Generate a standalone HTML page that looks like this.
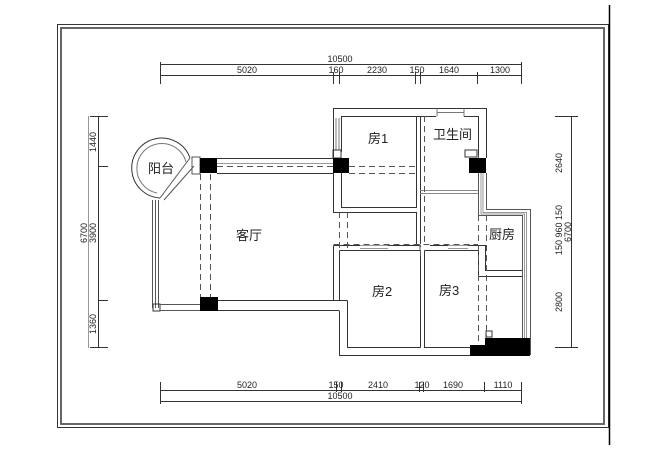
<!DOCTYPE html>
<html><head><meta charset="utf-8"><style>
html,body{margin:0;padding:0;background:#fff;width:654px;height:457px;overflow:hidden}
svg{display:block}
text{font-family:"Liberation Sans","Noto Sans CJK SC",sans-serif;fill:#222}
.cn{font-family:"Liberation Serif","Noto Serif CJK SC",serif;font-size:13px}
.d{font-size:9px}
</style></head><body>
<svg width="654" height="457" viewBox="0 0 654 457" xmlns="http://www.w3.org/2000/svg">
<g fill="none" stroke="#333" stroke-width="1">
<rect x="57.5" y="24.5" width="551" height="403"/>
<rect x="61" y="28" width="543" height="396" stroke="#666" stroke-width="2"/>
<line x1="609.5" y1="5" x2="609.5" y2="445" stroke="#000" stroke-width="1.5"/>
<line x1="160" y1="64.5" x2="522" y2="64.5"/>
<line x1="160" y1="75.5" x2="522" y2="75.5"/>
<path d="M160.5 62V84 M333.5 72V84 M339.5 72V84 M415.5 72V84 M420.5 72V84 M477.5 72V84 M521.5 62V84"/>
<line x1="160" y1="390.5" x2="522" y2="390.5"/>
<line x1="160" y1="401.5" x2="522" y2="401.5"/>
<path d="M160.5 382V404 M336.5 382V392 M341.5 382V392 M419.5 382V392 M423.5 382V392 M484.5 382V392 M521.5 382V404"/>
<line x1="98.5" y1="116" x2="98.5" y2="348"/>
<line x1="88.5" y1="116" x2="88.5" y2="348" stroke="#999"/>
<path d="M90 116.5H108 M98 166.5H108 M98 300.5H108 M90 347.5H108"/>
<line x1="571.5" y1="116" x2="571.5" y2="348"/>
<path d="M555 116.5H578 M555 347.5H578"/>
<path d="M190 158 A30 30 0 1 0 160 198" />
<path d="M186 162 A25 25 0 1 0 157 193" stroke="#777"/>
<path d="M190 158 L160 198 M194 166 L164 200" stroke="#555"/>
<path d="M152.5 200V308 M155.5 200V308 M158.5 200V308" stroke="#555"/>
<rect x="153" y="304" width="7" height="7"/>
<path d="M160 304.5H200 M160 310.5H200" stroke="#555"/>
<rect x="192" y="157" width="8" height="17" stroke="#555"/>
<path d="M217 158.5H333 M217 173.5H333" />
<path d="M217 163.5H333" stroke="#999"/>
<path d="M333.5 158V108.5H486.5V158 M341.5 152V116.5H436 M464 116.5H478.5V155"/>
<path d="M437 108.5V116.5 M464 108.5V116.5 M437 112.5H464" stroke="#777"/>
<path d="M336 118V150 M339 118V150" stroke="#777"/>
<rect x="333" y="150" width="8" height="8"/>
<rect x="465" y="150" width="12" height="7"/>
<path d="M341.5 173V207.5H416.5V116.5 M420.5 116.5V244 M333.5 173V212.5H369 M369 212.5H416.5V244"/>
<path d="M420 190.5H478 M420 193.5H478" stroke="#888"/>
<path d="M486.5 173V209.5H530.5V355 M478.5 173V215.5H522.5V338" stroke="#555"/>
<path d="M483 173V212.5H526.5V338 M481 173V214H524.5V338" stroke="#999"/>
<path d="M333.5 245.5V300 M333.5 245.5H360 M388 245.5H420 M420.5 245.5V247 M430 245.5H448 M468 245.5H485.5V270.5H522 M478.5 250V276.5H522"/>
<path d="M339.5 250.5H420.5V347.5 M424.5 250.5V347.5H475 M424.5 250.5H478.5V276"/>
<path d="M339.5 250.5V300" />
<path d="M347.5 300.5V347.5H420.5 M339.5 311V355.5H470"/>
<path d="M360 245.5H388 M448 245.5H468 M360 248.5H388 M448 248.5H468" stroke="#999"/>
<path d="M218 300.5H347.5 M218 310.5H339.5"/>
<rect x="486" y="331" width="6" height="6"/>
<g stroke="#555" stroke-dasharray="6,4">
<path d="M200.5 174V297 M210.5 174V297 M217 166.5H333 M349 166.5H416 M349 173.5H416 M339.5 212V250 M347.5 212V250 M333.5 244.5H478 M420 244.5V250 M424.5 116V244 M478.5 155V345 M486.5 215V340 M420.5 250V256"/>
</g>
</g>
<g fill="#000">
<rect x="200" y="158" width="17" height="15"/>
<rect x="333" y="158" width="16" height="15"/>
<rect x="469" y="158" width="17" height="15"/>
<rect x="200" y="297" width="18" height="14"/>
<path d="M485 338H530V356H470V345H485Z"/>
</g>
<g class="d">
<text x="340" y="62" text-anchor="middle">10500</text>
<text x="247" y="73" text-anchor="middle">5020</text>
<text x="336" y="73" text-anchor="middle">160</text>
<text x="377" y="73" text-anchor="middle">2230</text>
<text x="417" y="73" text-anchor="middle">150</text>
<text x="449" y="73" text-anchor="middle">1640</text>
<text x="500" y="73" text-anchor="middle">1300</text>
<text x="247" y="388" text-anchor="middle">5020</text>
<text x="336" y="388" text-anchor="middle">150</text>
<text x="378" y="388" text-anchor="middle">2410</text>
<text x="422" y="388" text-anchor="middle">120</text>
<text x="453" y="388" text-anchor="middle">1690</text>
<text x="503" y="388" text-anchor="middle">1110</text>
<text x="340" y="399" text-anchor="middle">10500</text>
<text transform="translate(96,142) rotate(-90)" text-anchor="middle">1440</text>
<text transform="translate(87,233) rotate(-90)" text-anchor="middle">6700</text>
<text transform="translate(96,233) rotate(-90)" text-anchor="middle">3900</text>
<text transform="translate(96,324) rotate(-90)" text-anchor="middle">1360</text>
<text transform="translate(562,163) rotate(-90)" text-anchor="middle">2640</text>
<text transform="translate(562,230) rotate(-90)" text-anchor="middle">150  960  150</text>
<text transform="translate(571,232) rotate(-90)" text-anchor="middle">6700</text>
<text transform="translate(562,302) rotate(-90)" text-anchor="middle">2800</text>
</g>
<g class="cn">
<text x="148" y="173">阳台</text>
<text x="236" y="240">客厅</text>
<text x="368" y="143">房1</text>
<text x="433" y="139">卫生间</text>
<text x="489" y="239">厨房</text>
<text x="372" y="296">房2</text>
<text x="439" y="295">房3</text>
</g>
</svg>
</body></html>
